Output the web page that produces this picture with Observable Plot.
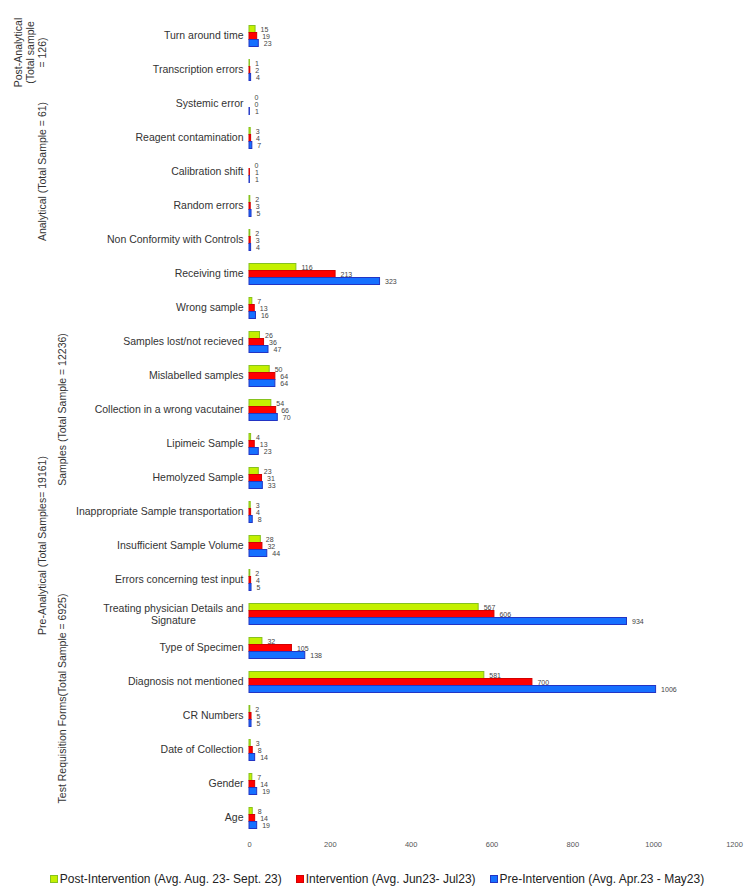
<!DOCTYPE html>
<html>
<head>
<meta charset="utf-8">
<script src="https://cdn.jsdelivr.net/npm/d3@7"></script>
<script src="https://cdn.jsdelivr.net/npm/@observablehq/plot@0.6"></script>
<style>
  html, body { margin: 0; padding: 0; background: #fff; }
  #chart { width: 750px; }
  .legend { display: flex; justify-content: center; align-items: center; gap: 14px;
    margin-top: 16px; padding-left: 4px; font: 12px "Liberation Sans", Arial, sans-serif; color: #222; }
  .legend span.item { display: inline-flex; align-items: center; white-space: nowrap; }
  .legend i { display: inline-block; width: 6px; height: 6px; margin-right: 2px; border: 1px solid; }
</style>
</head>
<body>
<div id="chart"></div>
<script>
// Quality-indicator error counts, top to bottom
const categories = [
  "Turn around time", "Transcription errors", "Systemic error", "Reagent contamination",
  "Calibration shift", "Random errors", "Non Conformity with Controls", "Receiving time",
  "Wrong sample", "Samples lost/not recieved", "Mislabelled samples",
  "Collection in a wrong vacutainer", "Lipimeic Sample", "Hemolyzed Sample",
  "Inappropriate Sample transportation", "Insufficient Sample Volume",
  "Errors concerning test input", "Treating physician Details and Signature",
  "Type of Specimen", "Diagnosis not mentioned", "CR Numbers", "Date of Collection",
  "Gender", "Age"
];
const postIntervention = [15, 1, 0, 3, 0, 2, 2, 116, 7, 26, 50, 54, 4, 23, 3, 28, 2, 567, 32, 581, 2, 3, 7, 8];
const intervention     = [19, 2, 0, 4, 1, 3, 3, 213, 13, 36, 64, 66, 13, 31, 4, 32, 4, 606, 105, 700, 5, 8, 14, 14];
const preIntervention  = [23, 4, 1, 7, 1, 5, 4, 323, 16, 47, 64, 70, 23, 33, 8, 44, 5, 934, 138, 1006, 5, 14, 19, 19];

const seriesNames = [
  "Post-Intervention (Avg. Aug. 23- Sept. 23)",
  "Intervention (Avg. Jun23- Jul23)",
  "Pre-Intervention (Avg. Apr.23 - May23)"
];
const xTicks = [0, 200, 400, 600, 800, 1000, 1200];

// Category groupings shown as rotated labels on the left
const groupLabels = [
  ["Post-Analytical", "(Total sample", "= 126)"],
  ["Analytical (Total Sample = 61)"],
  ["Pre-Analytical (Total Samples= 19161)"],
  ["Samples (Total Sample = 12236)"],
  ["Test Requisition Forms(Total Sample = 6925)"]
];
const groupFirst = ["Turn around time", "Systemic error", "Receiving time", "Receiving time", "Errors concerning test input"];
const groupLast  = ["Transcription errors", "Non Conformity with Controls", "Age", "Insufficient Sample Volume", "Age"];
const groupLevel = [0, 0, 0, 1, 1];

const wrappedCategory = "Treating physician Details and Signature";
const wrappedLines = ["Treating physician Details and", "Signature"];

// styling
const fills   = ["#c4f000", "#ff0000", "#1670ff"];
const strokes = ["#86c21e", "#d40000", "#2234c4"];
const font = '"Liberation Sans", Arial, sans-serif';

const seriesValues = [postIntervention, intervention, preIntervention];
const rows = categories.flatMap((c, i) =>
  seriesNames.map((s, j) => ({category: c, series: s, value: seriesValues[j][i]}))
);

// width of the longest line of the wrapped label, to centre its two lines
const ctx = document.createElement("canvas").getContext("2d");
ctx.font = `10.5px ${font}`;
const wrapWidth = ctx.measureText(wrappedLines[0]).width;

const plot = Plot.plot({
  width: 750,
  height: 856,
  marginTop: 16.5,
  marginBottom: 20.5,
  marginLeft: 249,
  marginRight: 16,
  style: {fontFamily: font, background: "white", overflow: "visible"},
  x: {domain: [0, 1200]},
  y: {domain: seriesNames, padding: 0, axis: null},
  fy: {domain: categories, paddingInner: 0.385, paddingOuter: 0.1925, label: null},
  marks: [
    ...seriesNames.map((s, j) => Plot.barX(rows.filter(r => r.series === s), {
      x: "value", y: "series", fy: "category",
      fill: fills[j], stroke: strokes[j], strokeWidth: 1
    })),
    Plot.text(rows, {
      x: "value", y: "series", fy: "category", text: d => String(d.value),
      dx: 5, textAnchor: "start", fontSize: 7, fill: "#444"
    }),
    Plot.axisFy({
      anchor: "left", tickSize: 0, tickPadding: 6, fontSize: 10.5, color: "#333", label: null,
      tickFormat: d => d === wrappedCategory ? "" : d
    }),
    Plot.text([wrappedCategory], {
      fy: d => d, frameAnchor: "left", text: () => wrappedLines.join("\n"),
      dx: -(6 + wrapWidth / 2), textAnchor: "middle", lineHeight: 1.12, fontSize: 10.5, fill: "#333"
    }),
    Plot.axisX({
      ticks: xTicks, tickFormat: d => String(d), tickSize: 0, tickPadding: 13,
      fontSize: 7.5, color: "#555", label: null, facetAnchor: "bottom"
    })
  ]
});

document.getElementById("chart").appendChild(plot);

// rotated group labels, centred on the span of their categories
const fy = plot.scale("fy");
const bandCenter = c => fy.apply(c) + fy.bandwidth / 2;
const levelX = [42, 62];
const svg = d3.select(plot);
groupLabels.forEach((lines, g) => {
  const cy = (bandCenter(groupFirst[g]) + bandCenter(groupLast[g])) / 2;
  const lh = 12;
  const x0 = levelX[groupLevel[g]] - lh * (lines.length - 1);
  const t = svg.append("text")
    .attr("transform", `translate(${x0},${cy}) rotate(-90)`)
    .attr("text-anchor", "middle")
    .attr("dominant-baseline", "central")
    .attr("font-size", 10.5)
    .attr("font-family", font)
    .attr("fill", "#333");
  lines.forEach((line, k) => {
    t.append("tspan").attr("x", 0).attr("y", k * lh).text(line);
  });
});

// legend
const legend = d3.select("body").append("div").attr("class", "legend");
seriesNames.forEach((s, j) => {
  const item = legend.append("span").attr("class", "item");
  item.append("i").style("background", fills[j]).style("border-color", strokes[j]);
  item.append("span").text(s);
});
</script>
</body>
</html>
